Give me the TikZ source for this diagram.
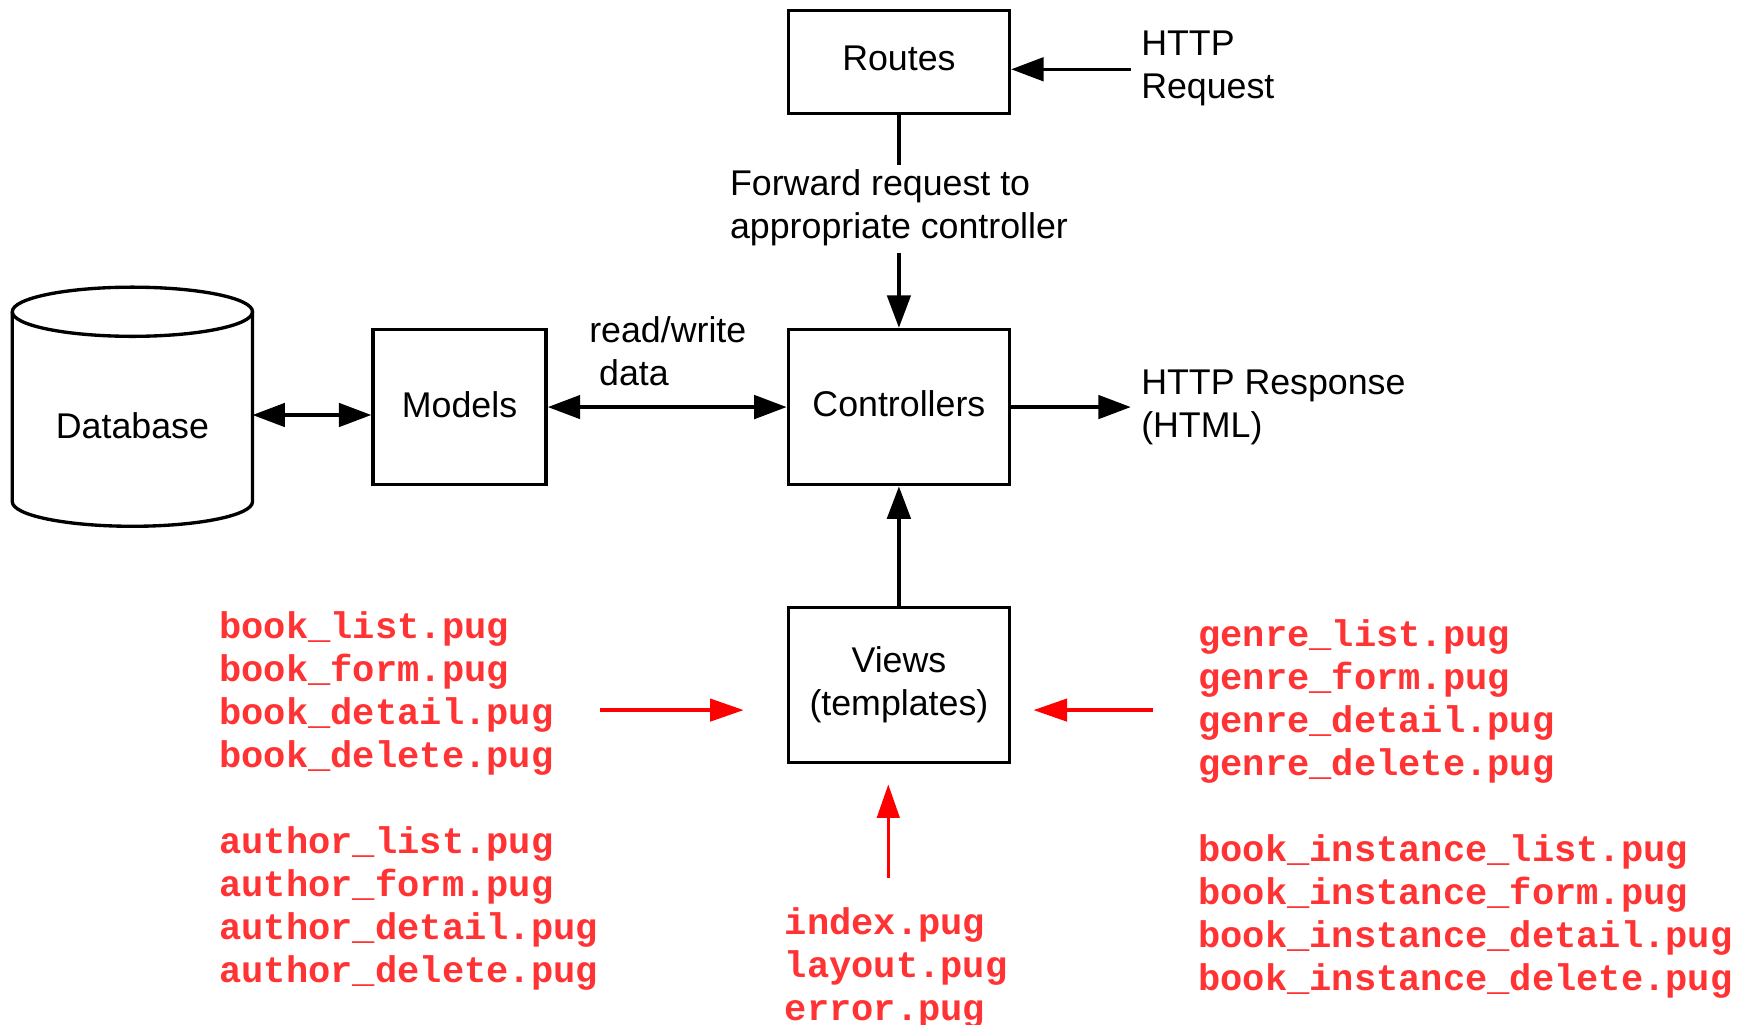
\documentclass[tikz,border=0pt]{standalone}
\usepackage{fontspec}
\setmainfont{Liberation Sans}
\setmonofont{Liberation Mono}
\usetikzlibrary{arrows.meta}
\definecolor{pugred}{RGB}{255,51,51}
\definecolor{arrred}{RGB}{255,0,0}
\begin{document}
\begin{tikzpicture}[x=0.5pt,y=-0.5pt,
  every node/.style={inner sep=0pt},
  lbl/.style={font=\fontsize{16}{19.25}\selectfont, align=left, anchor=west},
  box/.style={draw, line width=1.5pt, font=\fontsize{16}{19.25}\selectfont, align=center, minimum width=99pt, minimum height=69.5pt},
  blk/.style={line width=1.5pt, -{Triangle[length=14.5pt,width=10.5pt]}},
  blkboth/.style={line width=1.5pt, {Triangle[length=14.5pt,width=10.5pt]}-{Triangle[length=14.5pt,width=10.5pt]}},
  redarr/.style={line width=1.5pt, draw=arrred, -{Triangle[length=15pt,width=10pt]}},
  pug/.style={font=\ttfamily\bfseries\fontsize{16.6}{19.2}\selectfont, text=pugred, anchor=base west},
]
\useasboundingbox (0,0) rectangle (1568,917.3);

% boxes
\node[box, minimum height=46pt, text depth=3pt] (routes) at (804.5,55.5) {Routes};
\node[box, text depth=3pt] (ctrl) at (804.5,364.3) {Controllers};
\node[box, minimum width=77.5pt, text depth=2pt] (models) at (411.3,364.3) {Models};
\node[box] (views) at (804.5,613) {Views\\(templates)};

% database cylinder
\draw[line width=1.5pt] (118.5,279) ellipse [x radius=107.5, y radius=22];
\draw[line width=1.5pt] (11,279) -- (11,449) arc[start angle=180, end angle=0, x radius=107.5, y radius=22] -- (226,279);
\node[font=\fontsize{16}{19.25}\selectfont] (db) at (118.5,381) {Database};

% labels
\node[lbl] (req) at (1021,61.5) {HTTP\\Request};
\node[lbl] (fwd) at (653,185.5) {Forward request to\\appropriate controller};
\node[lbl] (resp) at (1021,364.5) {HTTP Response\\(HTML)};
\node[lbl] (rw) at (527,314.5) {read/write\\\hspace*{4.45pt}data};

% black connectors
\coordinate (reqin) at (1012,62);
\draw[blk] (reqin) -- (reqin -| routes.east);
\coordinate (fwdtop) at (804.5,148);
\coordinate (fwdbot) at (804.5,226);
\draw[line width=1.5pt] (routes.south) -- (fwdtop);
\draw[blk] (fwdbot) -- (ctrl.north);
\coordinate (respout) at (1012,364.3);
\draw[blk] (ctrl.east) -- (respout);
\draw[blkboth] (models.east) -- (ctrl.west);
\coordinate (dbe) at (226,371.4);
\draw[blkboth] (dbe) -- (dbe -| models.west);
\draw[blk] (views.north) -- (ctrl.south);

% red connectors
\coordinate (lstart) at (537,635.5);
\coordinate (lend) at (665.5,635.5);
\draw[redarr] (lstart) -- (lend);
\coordinate (rstart) at (1032,635.5);
\coordinate (rend) at (925,635.5);
\draw[redarr] (rstart) -- (rend);
\coordinate (bstart) at (795,786);
\coordinate (bend) at (795,702);
\draw[redarr] (bstart) -- (bend);

% pug lists
\foreach \t [count=\i from 0] in {book\_list.pug,book\_form.pug,book\_detail.pug,book\_delete.pug,,author\_list.pug,author\_form.pug,author\_detail.pug,author\_delete.pug}
  \node[pug] (L\i) at (196,571.4+38.45*\i) {\t};
\foreach \t [count=\i from 0] in {genre\_list.pug,genre\_form.pug,genre\_detail.pug,genre\_delete.pug,,book\_instance\_list.pug,book\_instance\_form.pug,book\_instance\_detail.pug,book\_instance\_delete.pug}
  \node[pug] (R\i) at (1072,578.8+38.45*\i) {\t};
\foreach \t [count=\i from 0] in {index.pug,layout.pug,error.pug}
  \node[pug] (B\i) at (702,836.4+38.45*\i) {\t};
\end{tikzpicture}
\end{document}
